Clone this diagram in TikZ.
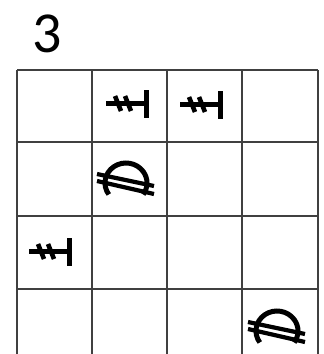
\documentclass[tikz,border=0pt]{standalone}
\usepackage{fontspec}
\setmainfont{Carlito}
\begin{document}
\begin{tikzpicture}[x=1pt,y=1pt,
  gridline/.style={draw=black!75,line width=1.6pt},
  glyph/.style={draw=black,line width=5pt},
  tally/.pic={
    \draw[glyph] (-40,0)--(0,0);
    \draw[glyph] (0,13)--(0,-15);
    \draw[glyph,line width=4.6pt] (-31,7)--(-25,-8) (-21,7)--(-15,-8);
  },
  dome/.pic={
    \draw[glyph] ({21*cos(215)},{20*sin(215)}) arc[start angle=215,end angle=-35,x radius=21,y radius=20];
    \draw[glyph,line width=4.2pt] (-29,9)--(28,-3) (-29,2)--(28,-11);
  }]
\useasboundingbox (0,0) rectangle (324,-354);
\clip (0,0) rectangle (324,-354);
\fill[white] (0,0) rectangle (324,-354);
\node[font=\fontsize{58}{58}\selectfont, inner sep=0pt] (title) at (47,-34) {3};
% grid
\foreach \x in {17,92,167,242,318} \draw[gridline] (\x,-70) -- (\x,-362);
\foreach \y in {70,142,216,289,362} \draw[gridline] (17,-\y) -- (318,-\y);
% glyphs
\pic at (146,-103) {tally};
\pic at (220,-104) {tally};
\pic at (69,-251) {tally};
\pic at (126,-183) {dome};
\pic at (277,-331) {dome};
\end{tikzpicture}
\end{document}
